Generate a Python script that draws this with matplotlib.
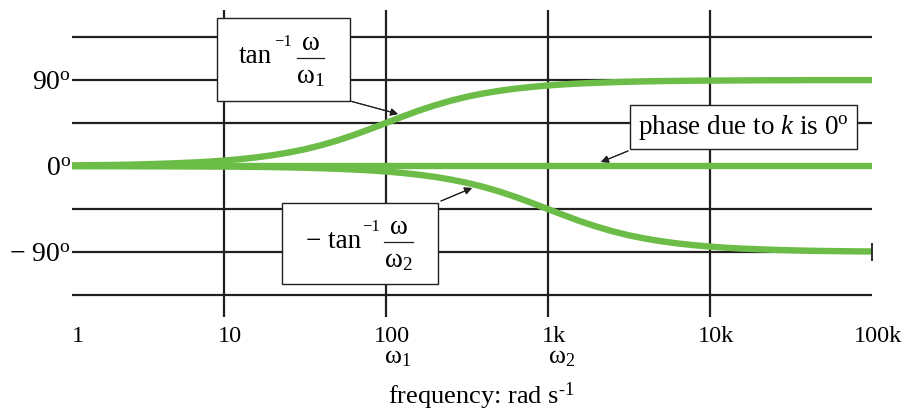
import matplotlib
matplotlib.use("Agg")
import matplotlib.pyplot as plt
from matplotlib.patches import Rectangle
from matplotlib.lines import Line2D
from matplotlib.transforms import ScaledTranslation

plt.rcParams["font.family"] = ["Liberation Serif", "DejaVu Serif"]
plt.rcParams["mathtext.fontset"] = "custom"
plt.rcParams["mathtext.rm"] = "Liberation Serif"
plt.rcParams["mathtext.it"] = "Liberation Serif:italic"
plt.rcParams["mathtext.bf"] = "Liberation Serif:bold"

# values (rad/s, degrees), ten points per decade
freq = [1, 1.26, 1.58, 2.0, 2.51, 3.16, 3.98, 5.01, 6.31, 7.94,
        10, 12.6, 15.8, 20, 25.1, 31.6, 39.8, 50.1, 63.1, 79.4,
        100, 126, 158, 200, 251, 316, 398, 501, 631, 794,
        1000, 1260, 1580, 2000, 2510, 3160, 3980, 5010, 6310, 7940,
        10000, 12600, 15800, 20000, 25100, 31600, 39800, 50100, 63100, 79400,
        100000]
phase_zero = [0.6, 0.7, 0.9, 1.1, 1.4, 1.8, 2.3, 2.9, 3.6, 4.5,
              5.7, 7.2, 9.0, 11.3, 14.1, 17.5, 21.7, 26.6, 32.3, 38.5,
              45.0, 51.5, 57.7, 63.4, 68.3, 72.5, 75.9, 78.7, 81.0, 82.8,
              84.3, 85.5, 86.4, 87.1, 87.7, 88.2, 88.6, 88.9, 89.1, 89.3,
              89.4, 89.5, 89.6, 89.7, 89.8, 89.8, 89.9, 89.9, 89.9, 89.9,
              89.9]
phase_pole = [-0.1, -0.1, -0.1, -0.1, -0.1, -0.2, -0.2, -0.3, -0.4, -0.5,
              -0.6, -0.7, -0.9, -1.1, -1.4, -1.8, -2.3, -2.9, -3.6, -4.5,
              -5.7, -7.2, -9.0, -11.3, -14.1, -17.5, -21.7, -26.6, -32.3, -38.5,
              -45.0, -51.5, -57.7, -63.4, -68.3, -72.5, -75.9, -78.7, -81.0, -82.8,
              -84.3, -85.5, -86.4, -87.1, -87.7, -88.2, -88.6, -88.9, -89.1, -89.3,
              -89.4]
k_freq = [1, 100000]
k_phase = [0, 0]

x_ticks = [1.16, 10, 100, 1000, 10000, 100000]
x_labels = ["1", "10", "100", "1k", "10k", "100k"]
y_ticks = [90, 0, -90]
y_labels = [r"90$^{\mathrm{o}}$", r"0$^{\mathrm{o}}$", "\u2212 90$^{\\mathrm{o}}$"]
h_grid = [135, 90, 45, 0, -45, -90, -135]
v_grid = [10, 100, 1000, 10000]

W, H = 911, 413
GREEN = "#6cbd47"
INK = "#231f20"


def px(x, y):
    # pixel position (from top-left) -> figure fraction
    return x / W, 1 - y / H


fig = plt.figure(figsize=(W / 100, H / 100), dpi=100)
ax = fig.add_axes([72 / W, 1 - 317 / H, 800 / W, 307 / H])
ax.set_xscale("log")
ax.set_xlim(1.16, 1e5)
ax.set_ylim(-158, 163.3)
for s in ax.spines.values():
    s.set_visible(False)

for yv in h_grid:
    ax.axhline(yv, color=INK, lw=1.6, zorder=1)
for xv in v_grid:
    ax.axvline(xv, color=INK, lw=1.6, zorder=1)

ax.plot(k_freq, k_phase, color=GREEN, lw=4.6, solid_capstyle="butt", zorder=3)
ax.plot(freq, phase_zero, color=GREEN, lw=4.6, solid_capstyle="butt",
        solid_joinstyle="round", zorder=3)
ax.plot(freq, phase_pole, color=GREEN, lw=4.6, solid_capstyle="butt",
        solid_joinstyle="round", zorder=3)
ax.plot([1e5], [-90], marker="|", ms=13, mew=1.3, color=INK, clip_on=False, zorder=4)

ax.minorticks_off()
ax.set_xticks(x_ticks, x_labels, fontsize=17.5)
ax.set_yticks(y_ticks, y_labels, fontsize=20)
ax.tick_params(axis="x", length=0, pad=6.5)
ax.tick_params(axis="y", length=0, pad=1)
shift = ScaledTranslation(6 / 100, 0, fig.dpi_scale_trans)
for lab in ax.get_xticklabels():
    lab.set_transform(lab.get_transform() + shift)

# omega markers under the tick labels
fig.text(*px(384, 363), r"$\mathrm{ω}_1$", fontsize=18.5, ha="left", va="baseline")
fig.text(*px(548, 363), r"$\mathrm{ω}_2$", fontsize=18.5, ha="left", va="baseline")

fig.text(*px(481, 396), "frequency: rad s$^{\\mathrm{\u20101}}$", fontsize=19,
         ha="center", va="center")

# annotation boxes
boxes = [(217, 18, 350, 101), (282, 203, 438, 284), (630, 105, 857, 149)]
for x0, y0, x1, y1 in boxes:
    bx, by = px(x0, y1)
    fig.add_artist(Rectangle((bx, by), (x1 - x0) / W, (y1 - y0) / H,
                             transform=fig.transFigure, facecolor="white",
                             edgecolor=INK, lw=1.0, zorder=5))

FS = 19.5
SUP = 12
# tan^-1 (w / w1)
fig.text(*px(239, 63), "tan", fontsize=FS, ha="left", va="baseline", zorder=6)
fig.text(*px(274, 46), "\u22121", fontsize=SUP, ha="left", va="baseline", zorder=6)
fig.text(*px(310, 50), r"$\mathrm{ω}$", fontsize=FS, ha="center", va="baseline", zorder=6)
fig.text(*px(310, 83), r"$\mathrm{ω}_1$", fontsize=FS, ha="center", va="baseline", zorder=6)
fig.add_artist(Line2D([297 / W, 324 / W], [1 - 57.5 / H] * 2, transform=fig.transFigure,
                      color=INK, lw=0.9, zorder=6))
# - tan^-1 (w / w2)
fig.text(*px(306, 248), "\u2212 tan", fontsize=FS, ha="left", va="baseline", zorder=6)
fig.text(*px(362, 231), "\u22121", fontsize=SUP, ha="left", va="baseline", zorder=6)
fig.text(*px(398.5, 234), r"$\mathrm{ω}$", fontsize=FS, ha="center", va="baseline", zorder=6)
fig.text(*px(398.5, 267), r"$\mathrm{ω}_2$", fontsize=FS, ha="center", va="baseline", zorder=6)
fig.add_artist(Line2D([384 / W, 413 / W], [1 - 242 / H] * 2, transform=fig.transFigure,
                      color=INK, lw=0.9, zorder=6))
# phase due to k
fig.text(*px(743.5, 127), r"phase due to $k$ is 0$^{\mathrm{o}}$", fontsize=FS,
         ha="center", va="center", zorder=6)

arrows = [
    ((350, 101), (398, 114)),
    ((441, 201), (472, 188)),
    ((628, 151), (601, 162)),
]
for start, end in arrows:
    fig.add_artist(plt.annotate(
        "", xy=px(*end), xytext=px(*start), xycoords="figure fraction",
        textcoords="figure fraction",
        arrowprops=dict(arrowstyle="-|>", color=INK, lw=0.8, mutation_scale=11,
                        shrinkA=0, shrinkB=0)))

fig.savefig("out.png", dpi=100)
